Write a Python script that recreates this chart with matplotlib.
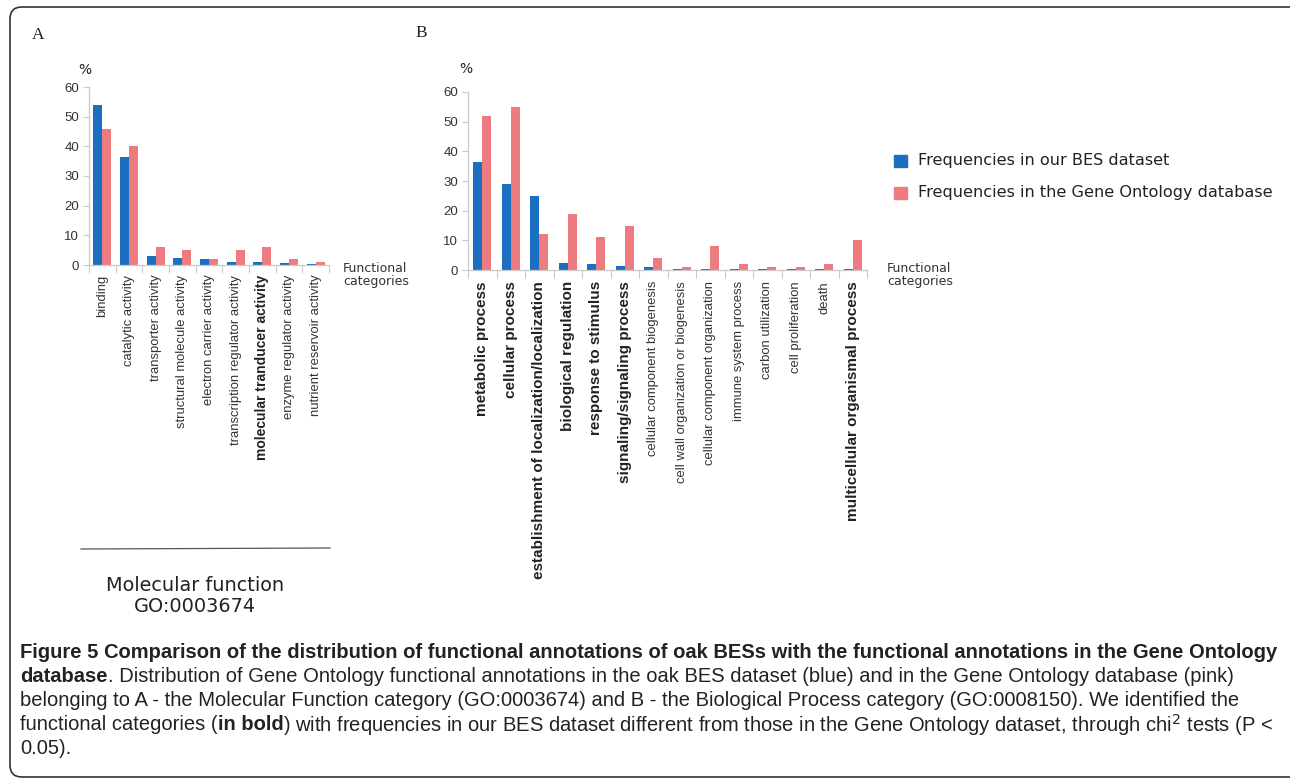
import numpy as np
import matplotlib
matplotlib.use("Agg")
import matplotlib.pyplot as plt
from matplotlib.patches import FancyBboxPatch
from matplotlib.transforms import IdentityTransform

# Panel A - molecular function
mf_labels = ["binding", "catalytic activity", "transporter activity",
             "structural molecule activity", "electron carrier activity",
             "transcription regulator activity", "molecular tranducer activity",
             "enzyme regulator activity", "nutrient reservoir activity"]
mf_bold = [False, False, False, False, False, False, True, False, False]
mf_bes = [54, 36.5, 3, 2.5, 2, 1, 1, 0.8, 0.5]
mf_go = [46, 40, 6, 5, 2, 5, 6, 2, 1]

# Panel B - biological process
bp_labels = ["metabolic process", "cellular process",
             "establishment of localization/localization", "biological regulation",
             "response to stimulus", "signaling/signaling process",
             "cellular component biogenesis", "cell wall organization or biogenesis",
             "cellular component organization", "immune system process",
             "carbon utilization", "cell proliferation", "death",
             "multicellular organismal process"]
bp_bold = [True, True, True, True, True, True, False, False, False, False,
           False, False, False, True]
bp_bes = [36.5, 29, 25, 2.5, 2, 1.3, 1, 0.5, 0.5, 0.5, 0.3, 0.3, 0.3, 0.2]
bp_go = [52, 55, 12, 19, 11, 15, 4, 1, 8, 2, 1, 1, 2, 10]

yticks = [0, 10, 20, 30, 40, 50, 60]

BLUE = "#1b6fc1"
PINK = "#ee7b80"
GRID = "#c9c9c9"
W, H = 1290, 782

fig = plt.figure(figsize=(W / 100, H / 100), dpi=100)


def px_axes(x0, y0, x1, y1):
    # pixel box (top-left origin) -> axes
    return fig.add_axes([x0 / W, 1 - y1 / H, (x1 - x0) / W, (y1 - y0) / H])


def bar_panel(ax, labels, bold, bes, go, width, norm_size, bold_size, pad):
    n = len(labels)
    x = np.arange(n) + 0.5
    ax.bar(x - width / 2, bes, width, color=BLUE)
    ax.bar(x + width / 2, go, width, color=PINK)
    ax.set_xlim(0, n)
    ax.set_ylim(0, 60)
    ax.set_yticks(yticks)
    ax.set_xticks(np.arange(n + 1))
    ax.set_xticklabels([])
    ax.set_xticks(x, minor=True)
    ax.set_xticklabels(labels, minor=True, rotation=90, va="top", ha="center",
                       family="Liberation Sans", color="#222222")
    for t, b in zip(ax.get_xticklabels(minor=True), bold):
        if b:
            t.set_fontweight("bold")
            t.set_fontsize(bold_size)
        else:
            t.set_fontsize(norm_size)
            t.set_color("#333333")
    ax.tick_params(axis="x", which="major", length=6, color=GRID, direction="out")
    ax.tick_params(axis="x", which="minor", length=0, pad=pad)
    ax.tick_params(axis="y", length=4, color=GRID, labelsize=9.5,
                   labelcolor="#333333", pad=3)
    for t in ax.get_yticklabels():
        t.set_family("Liberation Sans")
    for s in ["top", "right"]:
        ax.spines[s].set_visible(False)
    for s in ["left", "bottom"]:
        ax.spines[s].set_color(GRID)
        ax.spines[s].set_linewidth(0.9)


axA = px_axes(89, 87, 329, 265)
bar_panel(axA, mf_labels, mf_bold, mf_bes, mf_go, 0.34, 9.4, 10, 7)

axB = px_axes(468, 92, 867, 270)
bar_panel(axB, bp_labels, bp_bold, bp_bes, bp_go, 0.32, 9.4, 11, 8)

# panel letters and axis notes
fig.text(32 / W, 1 - 35 / H, "A", family="Liberation Serif", fontsize=12.5,
         va="center", color="#222222")
fig.text(415 / W, 1 - 33 / H, "B", family="Liberation Serif", fontsize=12.5,
         va="center", color="#222222")
fig.text(78 / W, 1 - 70 / H, "%", fontsize=10, va="center", color="#222222")
fig.text(459 / W, 1 - 69 / H, "%", fontsize=10, va="center", color="#222222")
fig.text(343 / W, 1 - 275 / H, "Functional\ncategories", fontsize=9,
         va="center", color="#333333", linespacing=1.1)
fig.text(887 / W, 1 - 275 / H, "Functional\ncategories", fontsize=9,
         va="center", color="#333333", linespacing=1.1)

# legend
fig.patches.append(plt.Rectangle((894 / W, 1 - 167 / H), 13 / W, 12 / H,
                                 transform=fig.transFigure, color=BLUE))
fig.patches.append(plt.Rectangle((894 / W, 1 - 199 / H), 13 / W, 12 / H,
                                 transform=fig.transFigure, color=PINK))
fig.text(918 / W, 1 - 161 / H, "Frequencies in our BES dataset", fontsize=11.6,
         va="center", color="#222222")
fig.text(918 / W, 1 - 193 / H, "Frequencies in the Gene Ontology database",
         fontsize=11.6, va="center", color="#222222")

# molecular function footer
fig.add_artist(plt.Line2D([81 / W, 330 / W], [1 - 549 / H, 1 - 548 / H],
                          color="#555555", lw=0.9))
fig.text(195 / W, 1 - 596 / H, "Molecular function\nGO:0003674", fontsize=13.9,
         ha="center", va="center", color="#222222", linespacing=1.12)

# rounded frame
frame = FancyBboxPatch((10, 5), 1320, 770, boxstyle="round,pad=0,rounding_size=12",
                       transform=IdentityTransform(), fill=False,
                       edgecolor="#333333", lw=1.2)
fig.patches.append(frame)

# caption with mixed bold / normal pieces
cap_font = "Liberation Sans"
renderer = fig.canvas.get_renderer()
line1 = ("Figure 5 Comparison of the distribution of functional annotations of oak "
         "BESs with the functional annotations in the Gene Ontology")
probe = fig.text(0, 0, line1, family=cap_font, fontsize=12, fontweight="bold")
cap_size = 12 * 1256 / probe.get_window_extent(renderer).width
probe.remove()


def run_line(y, pieces, x=20):
    for txt, wt in pieces:
        t = fig.text(x / W, 1 - y / H, txt, family=cap_font, fontsize=cap_size,
                     fontweight=wt, va="center", color="#222222")
        x += t.get_window_extent(renderer).width


run_line(652, [(line1, "bold")])
run_line(676, [("database", "bold"),
               (". Distribution of Gene Ontology functional annotations in the oak BES "
                "dataset (blue) and in the Gene Ontology database (pink)", "normal")])
run_line(701, [("belonging to A - the Molecular Function category (GO:0003674) and B - "
                "the Biological Process category (GO:0008150). We identified the", "normal")])
run_line(725, [("functional categories (", "normal"), ("in bold", "bold"),
               (") with frequencies in our BES dataset different from those in the Gene "
                "Ontology dataset, through chi$^2$ tests (P <", "normal")])
run_line(749, [("0.05).", "normal")])

fig.savefig("out.png", dpi=100)
